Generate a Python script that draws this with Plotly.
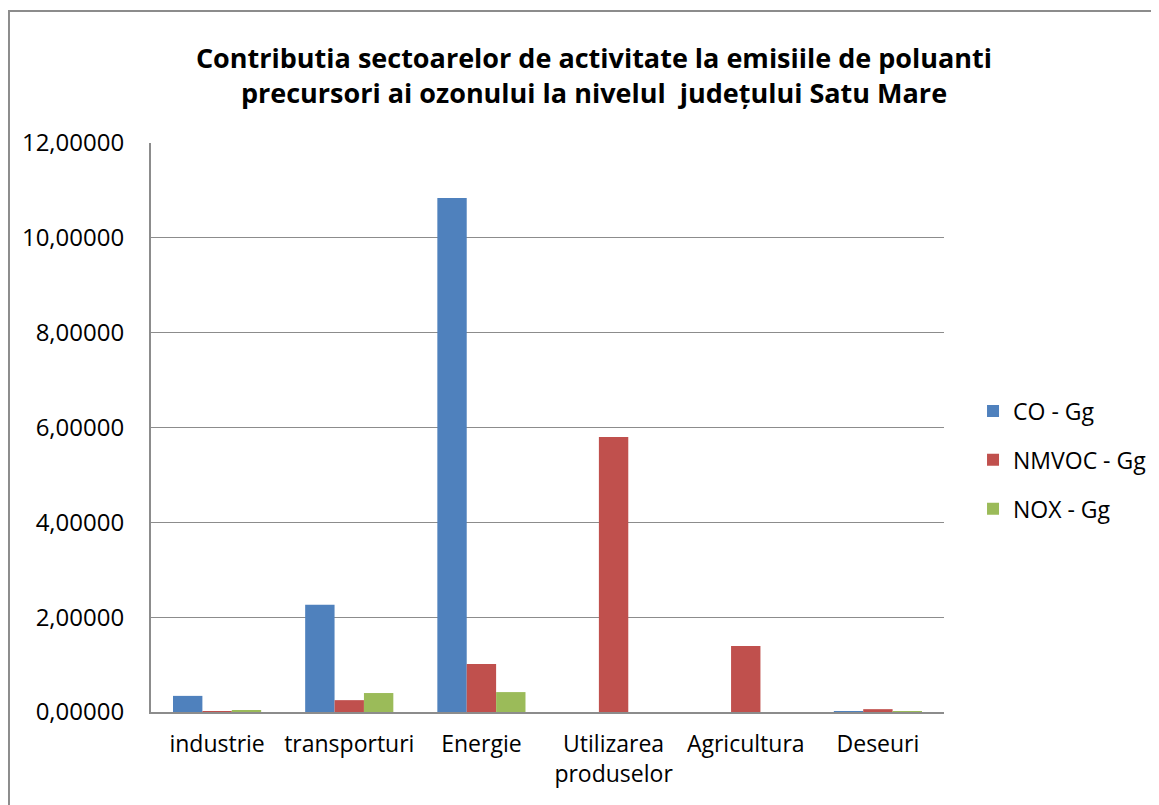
# Grouped bar chart: ozone precursor emissions by activity sector, Satu Mare county

import plotly.graph_objects as go

# Sectors shown on the x axis
SECTORS = ["industrie", "transporturi", "Energie", "Utilizarea<br>produselor", "Agricultura", "Deseuri"]

# Emissions in Gg
CO_GG = [0.34, 2.26, 10.84, 0.0, 0.0, 0.01]
NMVOC_GG = [0.02, 0.25, 1.01, 5.80, 1.39, 0.06]
NOX_GG = [0.04, 0.40, 0.42, 0.0, 0.0, 0.01]

Y_TICKS = [0, 2, 4, 6, 8, 10, 12]

SERIES = [
    ("CO - Gg", CO_GG, "#4F81BD"),
    ("NMVOC - Gg", NMVOC_GG, "#C0504D"),
    ("NOX - Gg", NOX_GG, "#9BBB59"),
]

FONT = "Open Sans"

fig = go.Figure()

for i, (name, values, color) in enumerate(SERIES):
    fig.add_trace(
        go.Bar(
            x=SECTORS,
            y=values,
            name=name,
            legendgroup=f"g{i}",
            marker_color=color,
            marker_line_width=0,
        )
    )

# the page has an 8px body margin, so the figure is shifted by 8px
fig.update_layout(
    width=1159,
    height=805,
    barmode="group",
    bargap=0.333,
    bargroupgap=0,
    separators=",.",
    paper_bgcolor="white",
    plot_bgcolor="white",
    font=dict(family=FONT, size=23, color="black"),
    margin=dict(l=143, r=223, t=135, b=101),
    title=dict(
        text="<b>Contributia sectoarelor de activitate la emisiile de poluanti<br>"
             "precursori ai ozonului la nivelul  județului Satu Mare</b>",
        font=dict(family=FONT, size=27, color="black"),
        x=0.5056,
        xanchor="center",
        xref="container",
        y=0.9254,
        yanchor="middle",
        yref="container",
    ),
    legend=dict(
        x=1.0366,
        y=0.443,
        xanchor="left",
        yanchor="middle",
        font=dict(family=FONT, size=23),
        tracegroupgap=16,
        itemwidth=30,
    ),
    shapes=[
        # outer chart frame (runs off the right and bottom edges)
        dict(
            type="rect",
            xref="paper", yref="paper",
            x0=-0.1791, x1=1.3, y0=-0.3, y1=1.232,
            line=dict(color="#8c8c8c", width=2),
            fillcolor="rgba(0,0,0,0)",
            layer="below",
        )
    ],
)

fig.update_xaxes(
    showline=True,
    linecolor="#8c8c8c",
    linewidth=2,
    showgrid=False,
    ticks="",
    ticklabelstandoff=10,
    tickfont=dict(family=FONT, size=23),
)

fig.update_yaxes(
    range=[0, 12],
    tickvals=Y_TICKS,
    tickformat=".5f",
    showline=True,
    linecolor="#8c8c8c",
    linewidth=2,
    showgrid=True,
    gridcolor="#8c8c8c",
    gridwidth=1.3,
    zeroline=False,
    ticks="",
    ticklabelstandoff=20,
    tickfont=dict(family=FONT, size=24),
)

fig.write_html("out.html")
